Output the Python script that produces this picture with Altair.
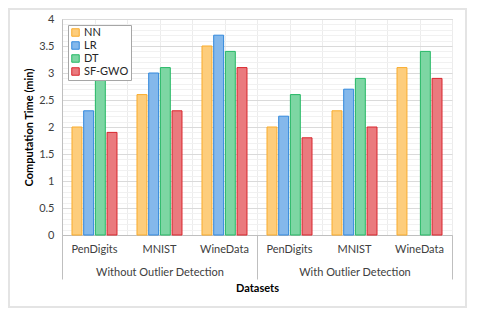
import altair as alt
import pandas as pd

groups = ["Without Outlier Detection", "With Outlier Detection"]
datasets = ["PenDigits", "MNIST", "WineData"]
models = ["NN", "LR", "DT", "SF-GWO"]

without_nn = [2.0, 2.6, 3.5]
without_lr = [2.3, 3.0, 3.7]
without_dt = [3.0, 3.1, 3.4]
without_sf = [1.9, 2.3, 3.1]
with_nn = [2.0, 2.3, 3.1]
with_lr = [2.2, 2.7, None]
with_dt = [2.6, 2.9, 3.4]
with_sf = [1.8, 2.0, 2.9]

y_major = [0, 0.5, 1, 1.5, 2, 2.5, 3, 3.5, 4]
y_minor = [round(i * 0.1, 1) for i in range(41)]

stroke_colors = ["#F9AC2C", "#3288DC", "#25B865", "#D8252C"]
fill_colors = ["#FDCD7C", "#84B8EB", "#7DD6A3", "#EA7A7E"]

series = {
    groups[0]: [without_nn, without_lr, without_dt, without_sf],
    groups[1]: [with_nn, with_lr, with_dt, with_sf],
}
rows = []
keys = []
for gi, g in enumerate(groups):
    for di, d in enumerate(datasets):
        key = f"{gi}|{d}"
        keys.append(key)
        for mi, m in enumerate(models):
            v = series[g][mi][di]
            if v is not None:
                rows.append({"key": key, "group": g, "dataset": d, "model": m, "value": v})
df = pd.DataFrame(rows)

W, H = 390, 216
FONT = "Lato"

major_test = "abs(datum.value*2 - round(datum.value*2)) < 0.001"

legend = alt.Legend(
    title=None, orient="top-left", offset=6, padding=2, strokeColor="#a6a6a6",
    fillColor="white", symbolType="square", symbolSize=56, symbolStrokeWidth=1,
    labelFontSize=11, labelColor="#262626", rowPadding=0, labelOffset=3,
)

bars = alt.Chart(df).mark_bar(strokeWidth=1).encode(
    x=alt.X(
        "key:N",
        scale=alt.Scale(domain=keys, paddingInner=0.3077, paddingOuter=0.1538),
        axis=alt.Axis(
            title=None, orient="bottom", labelExpr="split(datum.label,'|')[1]",
            ticks=False, domain=True, domainColor="#bfbfbf", labelPadding=8,
            labelFontSize=11, labelColor="#404040", grid=False, labelAngle=0,
        ),
    ),
    xOffset=alt.XOffset("model:N", scale=alt.Scale(domain=models, paddingInner=0.15)),
    y=alt.Y(
        "value:Q",
        scale=alt.Scale(domain=[0, 4], nice=False),
        axis=alt.Axis(
            values=y_minor, grid=True,
            gridColor={"condition": {"test": major_test, "value": "#dadada"}, "value": "#f1f1f1"},
            labelExpr=f"{major_test} ? format(datum.value, '~g') : ''",
            labelOverlap=False, ticks=False, domain=True, domainColor="#bfbfbf",
            labelPadding=8, labelFontSize=11, labelColor="#404040",
            title="Computation Time (min)", titleFontWeight="bold", titleFontSize=11,
            titleColor="#000000", titlePadding=4,
        ),
    ),
    fill=alt.Fill("model:N", scale=alt.Scale(domain=models, range=fill_colors), legend=legend),
    stroke=alt.Stroke("model:N", scale=alt.Scale(domain=models, range=stroke_colors), legend=legend),
)

grid_vals = [i * 0.5 for i in range(13)]
tick_df = pd.DataFrame({"pos": [0, 6]})
ticks_layer = alt.Chart(tick_df).mark_point(opacity=0).encode(
    x=alt.X(
        "pos:Q",
        scale=alt.Scale(domain=[0, 6], nice=False, zero=False),
        axis=alt.Axis(
            values=grid_vals, grid=True, gridColor="#ececec", ticks=True, tickSize=44,
            tickColor={"condition": {"test": "datum.value % 3 == 0", "value": "#bfbfbf"}, "value": "transparent"},
            labels=False, domain=False, title=None, orient="bottom",
        ),
    )
)

group_df = pd.DataFrame({"pos": [1.5, 4.5], "group": groups})
group_expr = f"datum.value < 3 ? '{groups[0]}' : '{groups[1]}'"
group_layer = alt.Chart(group_df).mark_point(opacity=0).encode(
    x=alt.X(
        "pos:Q",
        scale=alt.Scale(domain=[0, 6], nice=False, zero=False),
        axis=alt.Axis(
            values=[1.5, 4.5], labelExpr=group_expr, ticks=False, grid=False, domain=False,
            labelPadding=31, labelFontSize=11, labelColor="#404040",
            title="Datasets", titleFontWeight="bold", titleFontSize=11, titleColor="#000000",
            titlePadding=5, orient="bottom",
        ),
    )
)

frame = alt.Chart(pd.DataFrame({"a": [0]})).mark_rect(
    fill="transparent", stroke="#e4e4e4", strokeWidth=2
).encode(
    x=alt.value(-53), x2=alt.value(W + 14), y=alt.value(-10), y2=alt.value(H + 72)
)

chart = alt.layer(frame, ticks_layer, group_layer, bars).resolve_scale(
    x="independent"
).properties(
    width=W, height=H, padding={"left": 0, "top": 0, "right": 0, "bottom": 0}
).configure(font=FONT).configure_view(stroke="#bfbfbf", strokeWidth=1)

chart.save("out.html", embed_options={"renderer": "svg", "actions": False})
